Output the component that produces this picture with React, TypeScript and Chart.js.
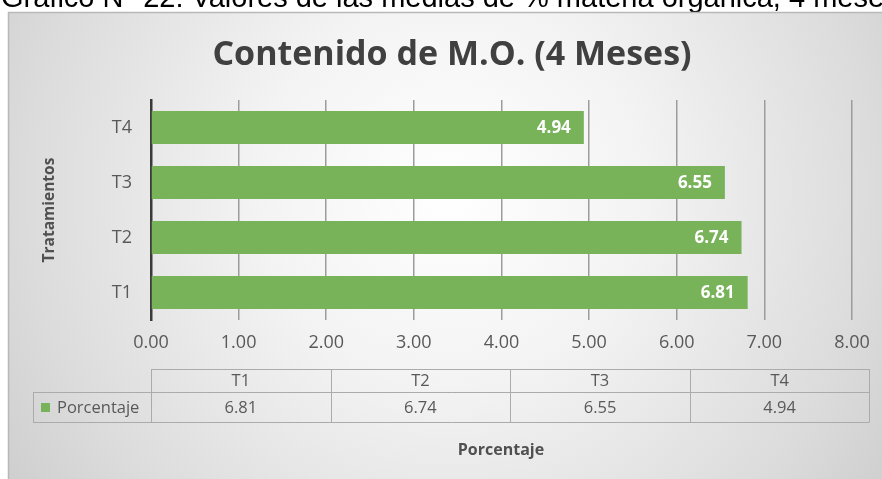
import React, { useEffect, useRef } from 'react';
import { Chart, registerables } from 'chart.js';
Chart.register(...registerables);

const captionText = 'Gráfico N° 22: Valores de las medias de % materia orgánica, 4 meses';
const chartTitle = 'Contenido de M.O. (4 Meses)';
const categories = ['T1', 'T2', 'T3', 'T4'];
const values = [6.81, 6.74, 6.55, 4.94];
const seriesName = 'Porcentaje';
const xAxisTitle = 'Porcentaje';
const yAxisTitle = 'Tratamientos';
const xTickValues = [0, 1, 2, 3, 4, 5, 6, 7, 8];

const GREEN = '#78b35a';
const TEXT = '#595959';
const FONT = '"Open Sans", "DejaVu Sans", sans-serif';

const decorPlugin = {
  id: 'decor',
  beforeDraw(chart: any) {
    const ctx = chart.ctx;
    const W = chart.width;
    const H = chart.height;
    ctx.save();
    ctx.fillStyle = '#ffffff';
    ctx.fillRect(0, 0, W, H);
    // caption (cut off at top)
    ctx.fillStyle = '#000000';
    ctx.font = '29px "Liberation Sans", Arial, sans-serif';
    ctx.textAlign = 'left';
    ctx.textBaseline = 'alphabetic';
    ctx.fillText(captionText, 1, 7);
    // chart box with gradient
    const g = ctx.createRadialGradient(450, 190, 0, 450, 190, 560);
    g.addColorStop(0, '#ffffff');
    g.addColorStop(0.35, '#f3f3f3');
    g.addColorStop(0.75, '#dcdcdc');
    g.addColorStop(1, '#cbcbcb');
    ctx.fillStyle = g;
    ctx.fillRect(8, 12, W - 8, H - 12);
    ctx.strokeStyle = '#b8b8b8';
    ctx.lineWidth = 1.5;
    ctx.beginPath();
    ctx.moveTo(8.5, H);
    ctx.lineTo(8.5, 12.5);
    ctx.lineTo(W, 12.5);
    ctx.stroke();
    ctx.restore();
  },
  afterDatasetsDraw(chart: any) {
    const ctx = chart.ctx;
    const meta = chart.getDatasetMeta(0);
    ctx.save();
    ctx.fillStyle = '#ffffff';
    ctx.font = 'bold 17px ' + FONT;
    ctx.textAlign = 'right';
    ctx.textBaseline = 'middle';
    meta.data.forEach((bar: any, i: number) => {
      ctx.fillText(values[i].toFixed(2), bar.x - 13, bar.y + 1);
    });
    ctx.restore();
  },
  afterDraw(chart: any) {
    const ctx = chart.ctx;
    const { left, right, top, bottom } = chart.chartArea;
    ctx.save();
    // title
    ctx.fillStyle = '#404040';
    ctx.font = 'bold 34px ' + FONT;
    ctx.textAlign = 'center';
    ctx.textBaseline = 'alphabetic';
    ctx.fillText(chartTitle, 452, 65);
    // y axis title
    ctx.font = 'bold 15.5px ' + FONT;
    ctx.fillStyle = '#505050';
    ctx.save();
    ctx.translate(50, (top + bottom) / 2);
    ctx.rotate(-Math.PI / 2);
    ctx.textBaseline = 'middle';
    ctx.fillText(yAxisTitle, 0, 0);
    ctx.restore();
    // x axis title
    ctx.font = 'bold 16px ' + FONT;
    ctx.textBaseline = 'middle';
    ctx.fillText(xAxisTitle, 501, 450);
    // data table
    const colW = (right - left) / categories.length;
    const y0 = bottom + 49;
    const y1 = bottom + 72;
    const y2 = bottom + 102;
    const legLeft = 33;
    ctx.strokeStyle = '#ababab';
    ctx.lineWidth = 1;
    ctx.beginPath();
    ctx.moveTo(left, y0 + 0.5); ctx.lineTo(right, y0 + 0.5);
    ctx.moveTo(legLeft, y1 + 0.5); ctx.lineTo(right, y1 + 0.5);
    ctx.moveTo(legLeft, y2 + 0.5); ctx.lineTo(right, y2 + 0.5);
    ctx.moveTo(legLeft + 0.5, y1); ctx.lineTo(legLeft + 0.5, y2);
    for (let i = 0; i <= categories.length; i++) {
      const x = Math.round(left + i * colW) + 0.5;
      ctx.moveTo(x, y0); ctx.lineTo(x, y2);
    }
    ctx.stroke();
    ctx.fillStyle = TEXT;
    ctx.font = '16.5px ' + FONT;
    ctx.textAlign = 'center';
    ctx.textBaseline = 'middle';
    categories.forEach((c, i) => {
      const cx = left + (i + 0.5) * colW;
      ctx.fillText(c, cx, (y0 + y1) / 2 + 1);
      ctx.fillText(values[i].toFixed(2), cx, (y1 + y2) / 2 + 1);
    });
    // legend cell
    ctx.fillStyle = GREEN;
    ctx.fillRect(41, y1 + 11, 9, 9);
    ctx.fillStyle = TEXT;
    ctx.textAlign = 'left';
    ctx.fillText(seriesName, 57, (y1 + y2) / 2 + 1);
    ctx.restore();
  },
};

export default function App() {
  const ref = useRef<HTMLCanvasElement>(null);
  useEffect(() => {
    const chart = new Chart(ref.current as HTMLCanvasElement, {
      type: 'bar',
      data: {
        labels: categories,
        datasets: [
          {
            label: seriesName,
            data: values,
            backgroundColor: GREEN,
            borderWidth: 0,
            categoryPercentage: 0.6,
            barPercentage: 1,
          },
        ],
      },
      options: {
        indexAxis: 'y',
        animation: false,
        responsive: false,
        devicePixelRatio: 1,
        layout: { padding: { left: 8, top: 100, right: 11, bottom: 0 } },
        plugins: {
          legend: { display: false },
          tooltip: { enabled: false },
          title: { display: false },
        },
        scales: {
          x: {
            type: 'linear',
            position: 'bottom',
            min: 0,
            max: 8.2,
            ticks: {
              stepSize: 1,
              color: TEXT,
              font: { family: FONT, size: 18 },
              padding: 12,
              callback: (v: any) => Number(v).toFixed(2),
            },
            afterBuildTicks: (scale: any) => {
              scale.ticks = xTickValues.map((v) => ({ value: v }));
            },
            afterFit: (scale: any) => {
              scale.height = 159;
            },
            grid: { color: '#9c9c9c', lineWidth: 1.5, drawTicks: false },
            border: { display: false },
          },
          y: {
            type: 'category',
            reverse: true,
            ticks: {
              color: TEXT,
              font: { family: FONT, size: 18 },
              padding: 19,
            },
            afterFit: (scale: any) => {
              scale.width = 143;
            },
            grid: { display: false, drawTicks: false },
            border: { display: true, color: '#3a3a3a', width: 2.5 },
          },
        },
      },
      plugins: [decorPlugin],
    } as any);
    return () => chart.destroy();
  }, []);
  return (
    <div style={{ position: 'fixed', left: 0, top: 0, width: 882, height: 479 }}>
      <canvas ref={ref} width={882} height={479} style={{ display: 'block' }} />
    </div>
  );
}
